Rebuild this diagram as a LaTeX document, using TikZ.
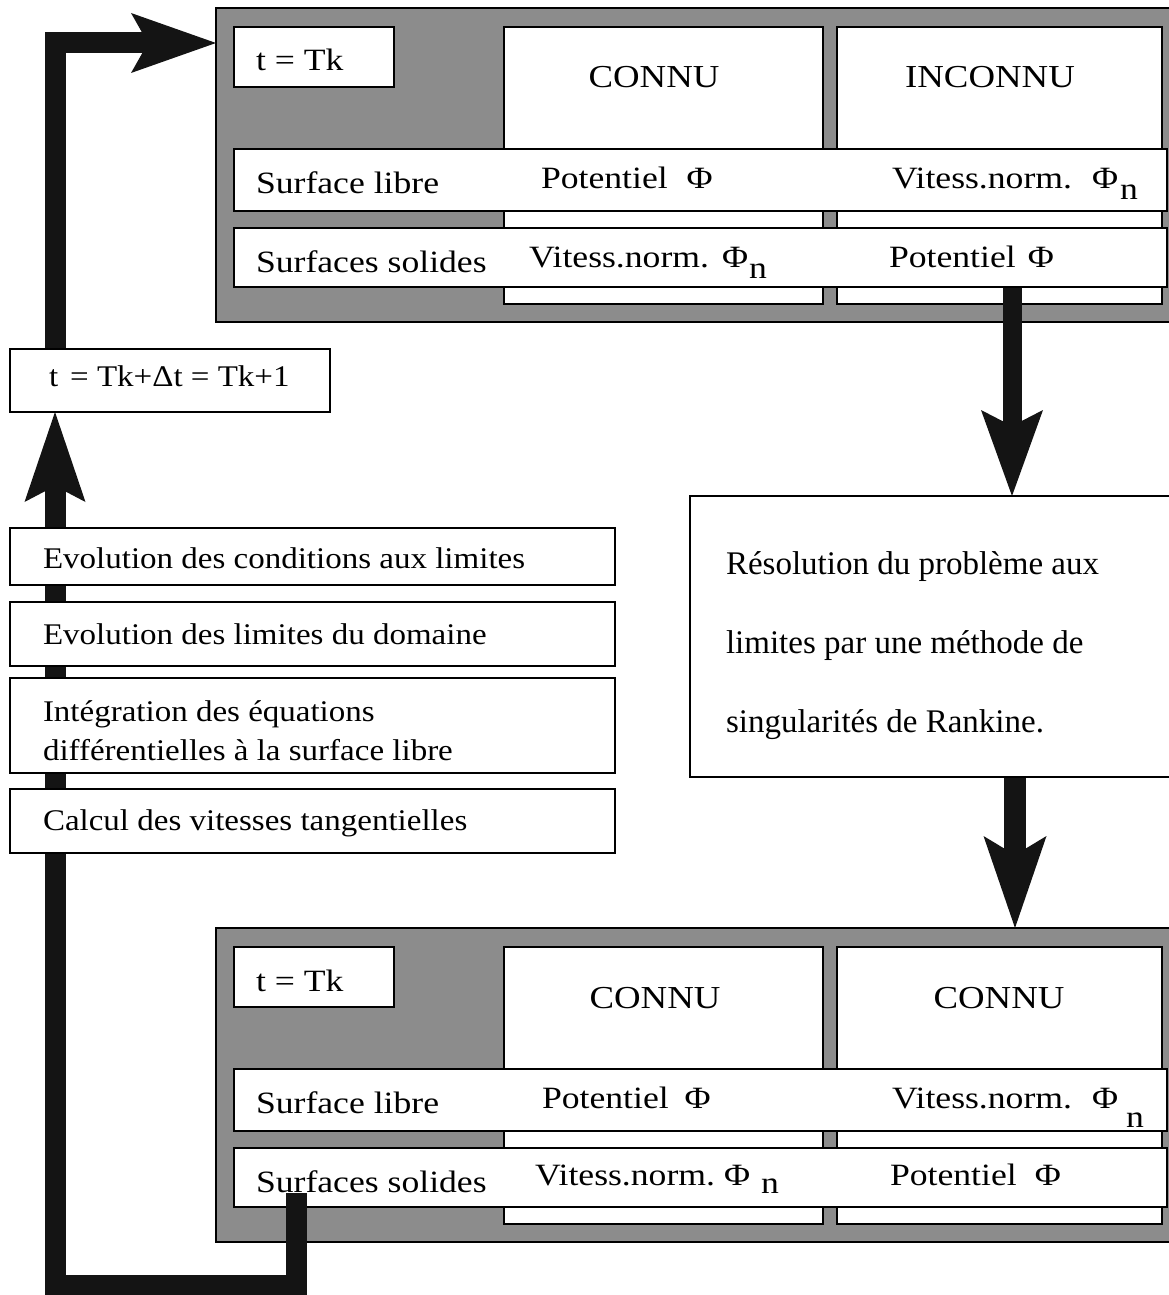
\documentclass[tikz,border=0pt]{standalone}
\usepackage{fontspec}
\setmainfont{Liberation Serif}
\newfontfamily\pfont[FakeStretch=1.15]{Liberation Serif}
\newfontfamily\lfont[FakeStretch=1.1]{Liberation Serif}
\usetikzlibrary{arrows.meta}
\pgfdeclarelayer{panels}
\pgfdeclarelayer{arrowlayer}
\pgfsetlayers{panels,arrowlayer,main}
\tikzset{
  every node/.style={inner sep=0pt, outer sep=0pt},
  panelbg/.style={draw=black, line width=1.6pt, fill=black!45, anchor=north west},
  cell/.style={draw=black, line width=1.8pt, fill=white, anchor=north west},
  ptxt/.style={font=\pfont\fontsize{31}{36}\selectfont, anchor=base west},
  ctxt/.style={font=\pfont\fontsize{32}{36}\selectfont, anchor=base},
  lbox/.style={draw=black, line width=1.8pt, fill=white, anchor=north west, minimum width=605pt},
  ltxt/.style={font=\lfont\fontsize{30}{36}\selectfont, anchor=base west},
  rtxt/.style={font=\fontsize{33}{40}\selectfont, anchor=base west},
  bigarrow/.style={draw=black!92, line width=21pt, line join=miter},
}
\newcommand\Phn[2]{Φ\hspace{#1}\raisebox{-#2}{n}}
\newcommand\drawpanel[2]{%
\begin{scope}[shift={(0,#2)}]
\node[panelbg, minimum width=956pt, minimum height=314pt] (#1out) at (216,8) {};
\node[cell, minimum width=160pt, minimum height=60pt] (#1tk) at (234,27) {};
\node[cell, minimum width=319pt, minimum height=277pt] (#1colA) at (504,27) {};
\node[cell, minimum width=325pt, minimum height=277pt] (#1colB) at (837,27) {};
\node[cell, minimum width=933pt, minimum height=62pt] (#1rowA) at (234,149) {};
\node[cell, minimum width=933pt, minimum height=59pt] (#1rowB) at (234,228) {};
\node[ptxt] (#1tktxt) at (256,71) {t = Tk};
\node[ptxt] (#1la) at (256,193) {Surface libre};
\node[ptxt] (#1lb) at (256,272) {Surfaces solides};
\end{scope}}
\begin{document}
\begin{tikzpicture}[x=1pt, y=-1pt]
\useasboundingbox (0,0) rectangle (1169,1295);

\begin{pgfonlayer}{panels}
\drawpanel{top}{0}
\node[ctxt] (topcA) at (654,88) {CONNU};
\node[ctxt] (topcB) at (990,88) {INCONNU};
\node[ptxt] (topAa) at (541,188) {Potentiel\hspace{19pt}Φ};
\node[ptxt] (topAb) at (892,188) {Vitess.norm.\hspace{20pt}\Phn{2pt}{11pt}};
\node[ptxt] (topBa) at (529,267) {Vitess.norm.\hspace{13pt}\Phn{1pt}{11pt}};
\node[ptxt] (topBb) at (889,267) {Potentiel\hspace{12pt}Φ};

\drawpanel{bot}{920}
\node[ctxt] (botcA) at (655,1008) {CONNU};
\node[ctxt] (botcB) at (999,1008) {CONNU};
\node[ptxt] (botAa) at (542,1108) {Potentiel\hspace{16pt}Φ};
\node[ptxt] (botAb) at (892,1108) {Vitess.norm.\hspace{20pt}\Phn{8pt}{19pt}};
\node[ptxt] (botBa) at (535,1185) {Vitess.norm.\hspace{9pt}\Phn{11pt}{8pt}};
\node[ptxt] (botBb) at (890,1185) {Potentiel\hspace{18pt}Φ};
\end{pgfonlayer}

% left column
\node[cell, minimum width=320pt, minimum height=63pt] (tnext) at (10,349) {};
\node[ltxt] (tnexttxt) at (49,386) {t\hspace{12pt}= Tk+Δt = Tk+1};
\node[lbox, minimum height=57pt] (evA) at (10,528) {};
\node[ltxt] (evAtxt) at (43,568) {Evolution des conditions aux limites};
\node[lbox, minimum height=64pt] (evB) at (10,602) {};
\node[ltxt] (evBtxt) at (43,644) {Evolution des limites du domaine};
\node[lbox, minimum height=95pt] (integ) at (10,678) {};
\node[ltxt] (integA) at (43,721) {Intégration des équations};
\node[ltxt] (integB) at (43,760) {différentielles à la surface libre};
\node[lbox, minimum height=64pt] (calc) at (10,789) {};
\node[ltxt] (calctxt) at (43,830) {Calcul des vitesses tangentielles};

% resolution box
\node[cell, minimum width=482pt, minimum height=281pt] (res) at (690,496) {};
\node[rtxt] (resA) at (726,574) {Résolution du problème aux};
\node[rtxt] (resB) at (726,653) {limites par une méthode de};
\node[rtxt] (resC) at (726,732) {singularités de Rankine.};

\begin{pgfonlayer}{arrowlayer}
\coordinate (aOneStart) at (1012,288);
\draw[bigarrow, line width=19pt, -{Stealth[length=86pt,width=62pt,inset=16pt,line width=0pt]}]
  (aOneStart) -- (aOneStart |- res.north);
\coordinate (aTwoX) at (1015,0);
\draw[bigarrow, line width=22pt, -{Stealth[length=92pt,width=63pt,inset=19pt,line width=0pt]}]
  (res.south -| aTwoX) -- (botout.north -| aTwoX);
\coordinate (loopStart) at (296,1193);
\coordinate (loopLow) at (296,1285);
\coordinate (loopLeft) at (55,1285);
\draw[bigarrow, -{Stealth[length=90pt,width=61pt,inset=16pt,line width=0pt]}]
  (loopStart) -- (loopLow) -- (loopLeft) -- (loopLeft |- tnext.south);
\coordinate (topTurn) at (55,43);
\draw[bigarrow, -{Stealth[length=85pt,width=60pt,inset=17pt,line width=0pt]}]
  (tnext.north -| topTurn) -- (topTurn) -- (topTurn -| topout.west);
\end{pgfonlayer}
\end{tikzpicture}
\end{document}
